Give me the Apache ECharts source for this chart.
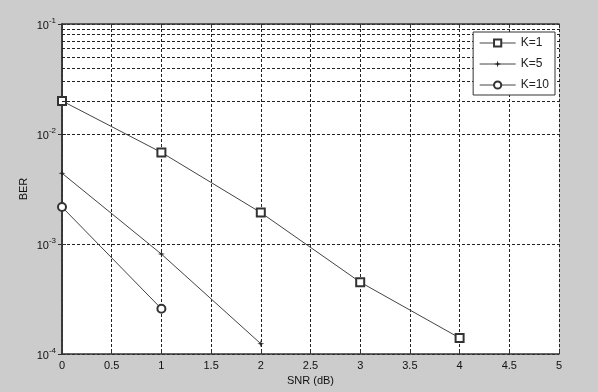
<!DOCTYPE html>
<html>
<head>
<meta charset="utf-8">
<script src="https://cdn.jsdelivr.net/npm/echarts@6/dist/echarts.min.js"></script>
<style>
  html, body { margin: 0; padding: 0; background: #cccccc; }
  #chart { width: 598px; height: 392px; }
</style>
</head>
<body>
<div id="chart"></div>
<script>
// BER vs SNR for three K values
var snr = [0, 1, 2, 3, 4];
var berK1 = [0.0200, 0.0068, 0.00193, 0.00045, 0.00014];
var berK5 = [0.0044, 0.00081, 0.000124];
var berK10 = [0.00217, 0.000258];
var seriesNames = ['K=1', 'K=5', 'K=10'];

// minor log grid: 2..9 in each decade
var decades = [1e-4, 1e-3, 1e-2];
var minorSteps = [2, 3, 4, 5, 6, 7, 8, 9];

function pairs(ys) {
  return ys.map(function (y, i) { return [snr[i], y]; });
}

var minorLines = [];
decades.forEach(function (d) {
  minorSteps.forEach(function (m) { minorLines.push({ yAxis: d * m }); });
});

var dotted = { color: '#222', width: 1, type: [3, 2] };
var font = 'Liberation Sans, Arial, sans-serif';
var starPath = 'path://M0,-5L1,-1L5,0L1,1L0,5L-1,1L-5,0L-1,-1Z';

var chart = echarts.init(document.getElementById('chart'));
chart.setOption({
  backgroundColor: '#cccccc',
  animation: false,
  textStyle: { fontFamily: font },
  grid: { left: 62, top: 24, right: 39, bottom: 38, show: true, backgroundColor: '#fff', borderWidth: 0 },
  legend: {
    data: seriesNames,
    orient: 'vertical',
    right: 43,
    top: 32,
    z: 20,
    itemWidth: 36,
    itemHeight: 9,
    itemGap: 9,
    padding: [5, 6, 4, 6],
    backgroundColor: '#fff',
    borderColor: '#333',
    borderWidth: 1,
    borderRadius: 0,
    itemStyle: { borderWidth: 1 },
    lineStyle: { width: 1 },
    textStyle: { fontSize: 12, color: '#222', fontFamily: font }
  },
  xAxis: [{
    type: 'value', min: 0, max: 5, interval: 0.5,
    name: 'SNR (dB)', nameLocation: 'middle', nameGap: 20,
    nameTextStyle: { fontSize: 11, color: '#111' },
    axisLine: { show: true, lineStyle: { color: '#333', width: 1.5 } },
    axisTick: { show: true, inside: true, length: 4, lineStyle: { color: '#333' } },
    axisLabel: { fontSize: 11, color: '#111', margin: 6 },
    splitLine: { show: true, lineStyle: dotted }
  }, {
    type: 'value', min: 0, max: 5, interval: 0.5, position: 'top',
    axisLine: { show: true, lineStyle: { color: '#333', width: 1.5 } },
    axisTick: { show: true, inside: true, length: 4, lineStyle: { color: '#333' } },
    axisLabel: { show: false },
    splitLine: { show: false }
  }],
  yAxis: [{
    type: 'log', logBase: 10, min: 1e-4, max: 1e-1,
    name: 'BER', nameLocation: 'middle', nameGap: 33, nameMoveOverlap: false,
    nameTextStyle: { fontSize: 11, color: '#111' },
    axisLine: { show: true, lineStyle: { color: '#333', width: 1.5 } },
    axisTick: { show: true, inside: true, length: 4, lineStyle: { color: '#333' } },
    axisLabel: {
      margin: 6,
      padding: [4, 0, 0, 0],
      formatter: function (v) {
        var e = Math.round(Math.log10(v));
        return '{b|10}{s|' + e + '}';
      },
      rich: {
        b: { fontSize: 11, color: '#111', lineHeight: 18, verticalAlign: 'middle', fontFamily: font },
        s: { fontSize: 8, color: '#111', lineHeight: 18, verticalAlign: 'top', fontFamily: font }
      }
    },
    splitLine: { show: true, lineStyle: dotted }
  }, {
    type: 'log', logBase: 10, min: 1e-4, max: 1e-1, position: 'right',
    axisLine: { show: true, lineStyle: { color: '#333', width: 1.5 } },
    axisTick: { show: true, inside: true, length: 4, lineStyle: { color: '#333' } },
    axisLabel: { show: false },
    splitLine: { show: false }
  }],
  series: [{
    name: 'K=1', type: 'line', data: pairs(berK1),
    symbol: 'emptyRect', symbolSize: 8,
    lineStyle: { color: '#444', width: 1 },
    itemStyle: { color: '#333', borderWidth: 1 },
    markLine: {
      silent: true, symbol: 'none', label: { show: false },
      lineStyle: dotted, data: minorLines, animation: false
    },
    z: 2
  }, {
    name: 'K=5', type: 'line', data: pairs(berK5),
    symbol: starPath, symbolSize: 7,
    lineStyle: { color: '#444', width: 1 },
    itemStyle: { color: '#222' },
    z: 2
  }, {
    name: 'K=10', type: 'line', data: pairs(berK10),
    symbol: 'emptyCircle', symbolSize: 8,
    lineStyle: { color: '#444', width: 1 },
    itemStyle: { color: '#333', borderWidth: 1 },
    z: 2
  }]
});
</script>
</body>
</html>
